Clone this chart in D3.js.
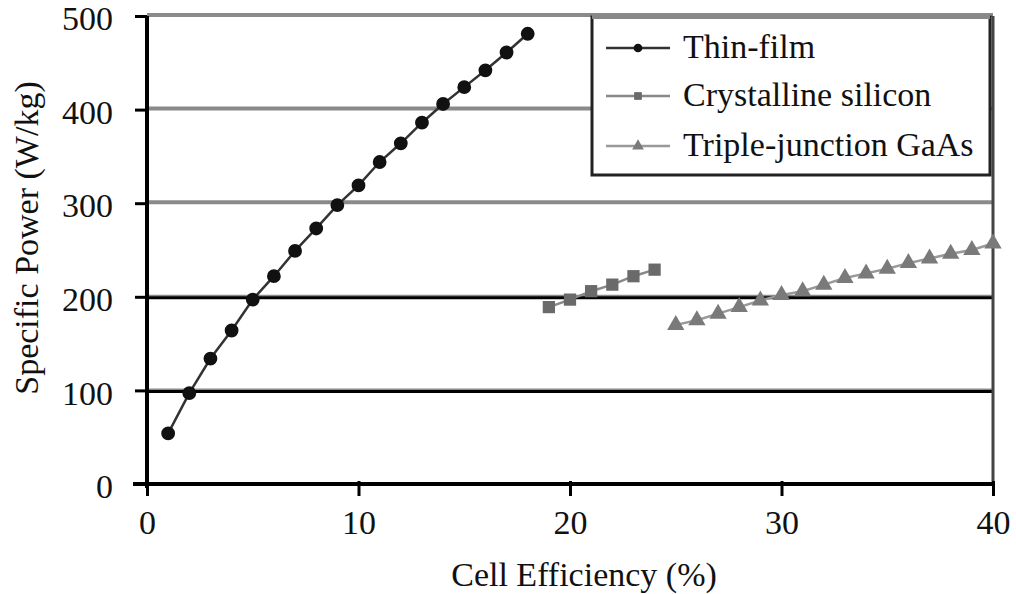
<!DOCTYPE html>
<html><head><meta charset="utf-8">
<script src="https://cdn.jsdelivr.net/npm/d3@7"></script>
</head><body><svg id="c" width="1016" height="594"></svg>
<script>
const seriesNames = ["Thin-film", "Crystalline silicon", "Triple-junction GaAs"];
const thinX = [1,2,3,4,5,6,7,8,9,10,11,12,13,14,15,16,17,18];
const thinY = [54,97,134,164,197,222,249,273,298,319,344,364,386,406,424,442,461,481];
const siX = [19,20,21,22,23,24];
const siY = [189,197,206,213,222,229];
const gaX = [25,26,27,28,29,30,31,32,33,34,35,36,37,38,39,40];
const gaY = [170,175,182,189,196,202,206,213,220,225,230,236,241,246,250,257];
const xTicks = [0,10,20,30,40];
const yTicks = [0,100,200,300,400,500];

d3.select("body").style("margin","0px");
const svg = d3.select("#c").style("display","block").style("font-family",'"Liberation Serif"').attr("font-family","Liberation Serif");
const x = d3.scaleLinear().domain([0,40]).range([147,993]);
const y = d3.scaleLinear().domain([0,500]).range([484,16]);

function styleText(sel){
  sel.attr("font-family","Liberation Serif").style("font-family",'"Liberation Serif"').style("font-size","34px").attr("fill","#111");
}

// gridlines
yTicks.filter(v=>v>0).forEach(v=>{
  const dark = v<=200;
  svg.append("line").attr("x1",x(0)).attr("x2",x(40)).attr("y1",y(v)-1).attr("y2",y(v)-1)
    .attr("stroke","#8a8a8a").attr("stroke-width",dark?2:4);
  if(dark) svg.append("line").attr("x1",x(0)).attr("x2",x(40)).attr("y1",y(v)+1).attr("y2",y(v)+1)
    .attr("stroke","#000").attr("stroke-width",3);
});
// right frame
svg.append("line").attr("x1",x(40)).attr("x2",x(40)).attr("y1",y(500)).attr("y2",y(0))
  .attr("stroke","#444").attr("stroke-width",3);

// axes
const yAxis = svg.append("g").attr("transform",`translate(${x(0)},0)`)
  .call(d3.axisLeft(y).tickValues(yTicks).tickSize(12).tickPadding(22));
const xAxis = svg.append("g").attr("transform",`translate(0,${y(0)})`)
  .call(d3.axisBottom(x).tickValues(xTicks).tickSize(12).tickPadding(14));
[yAxis,xAxis].forEach(g=>{
  g.attr("font-family","Liberation Serif").attr("font-size",34);
  g.select(".domain").attr("stroke","#000").attr("stroke-width",4);
  g.selectAll(".tick line").attr("stroke","#000").attr("stroke-width",3);
  styleText(g.selectAll("text"));
});
xAxis.selectAll(".tick line").attr("y1",-3);
yAxis.selectAll(".tick text").attr("dy","0.4em");
yAxis.select(".domain").attr("d",`M0,${y(500)}V${y(0)+4}`);
xAxis.select(".domain").attr("d",`M${x(0)-14},0H${x(40)}`);

// axis titles
styleText(svg.append("text").attr("x",584).attr("y",586).attr("text-anchor","middle").text("Cell Efficiency (%)"));
styleText(svg.append("text").attr("transform","translate(38,238) rotate(-90)").attr("text-anchor","middle").text("Specific Power (W/kg)"));

const line = d3.line().x(d=>x(d[0])).y(d=>y(d[1]));
const zip = (a,b)=>a.map((v,i)=>[v,b[i]]);
const symTypes = [d3.symbolCircle, d3.symbolSquare, d3.symbolTriangle];
const symSizes = [150,150,130];
const cols = ["#111","#6a6a6a","#7a7a7a"];
const lineCols = ["#333","#888","#999"];
const data = [zip(thinX,thinY), zip(siX,siY), zip(gaX,gaY)];
data.forEach((d,i)=>{
  svg.append("path").datum(d).attr("d",line).attr("fill","none").attr("stroke",lineCols[i]).attr("stroke-width",2.5);
  svg.append("g").selectAll("path").data(d).join("path")
    .attr("transform",p=>`translate(${x(p[0])},${y(p[1])})`)
    .attr("d",d3.symbol().type(symTypes[i]).size(symSizes[i])).attr("fill",cols[i]);
});

// legend
const lg = svg.append("g");
lg.append("rect").attr("x",592).attr("y",17).attr("width",398).attr("height",158)
  .attr("fill","#fff").attr("stroke","#222").attr("stroke-width",3);
lg.append("line").attr("x1",592).attr("x2",990).attr("y1",17).attr("y2",17).attr("stroke","#888").attr("stroke-width",4);
const rowsY = [48,96,146];
seriesNames.forEach((n,i)=>{
  lg.append("line").attr("x1",606).attr("x2",670).attr("y1",rowsY[i]).attr("y2",rowsY[i]).attr("stroke",lineCols[i]).attr("stroke-width",2.5);
  lg.append("path").attr("transform",`translate(638,${rowsY[i]})`).attr("d",d3.symbol().type(symTypes[i]).size(60)).attr("fill",cols[i]);
  styleText(lg.append("text").attr("x",683).attr("y",rowsY[i]+10).text(n));
});
</script></body></html>
